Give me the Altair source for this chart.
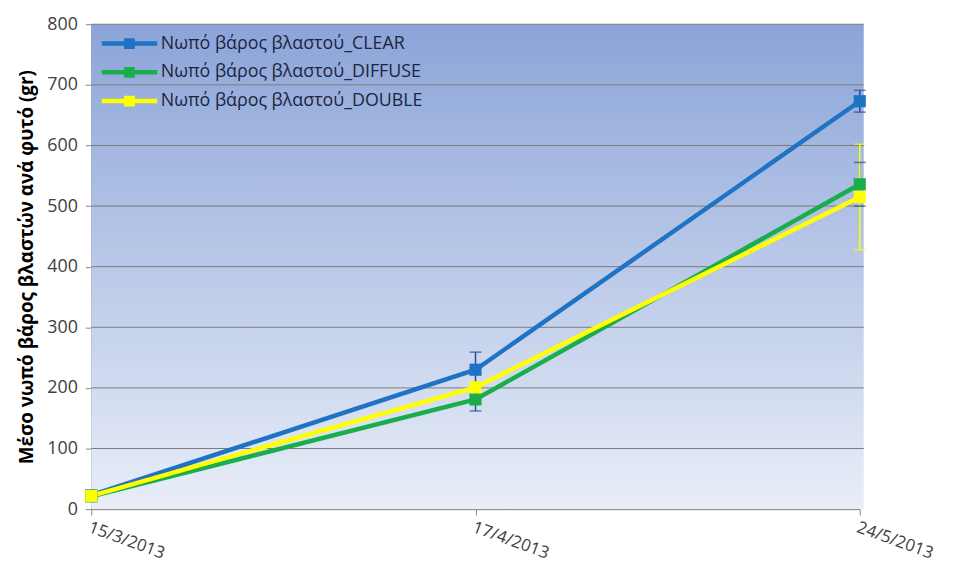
import altair as alt
import pandas as pd

dates = ["15/3/2013", "17/4/2013", "24/5/2013"]
series = ["Νωπό βάρος βλαστού_CLEAR", "Νωπό βάρος βλαστού_DIFFUSE", "Νωπό βάρος βλαστού_DOUBLE"]
clear = [23, 230, 673]
diffuse = [21, 181, 536]
double = [22, 201, 515]
clear_err = [2, 29, 18]
diffuse_err = [2, 19, 36]
double_err = [2, 3, 87]
y_ticks = [0, 100, 200, 300, 400, 500, 600, 700, 800]
colors = ["#1f73c4", "#1aad4c", "#ffff00"]
err_colors = ["#1f4f9a", "#1f4f9a", "#ffff00"]

rows = []
for s, vals, errs, ec in zip(series, [clear, diffuse, double], [clear_err, diffuse_err, double_err], err_colors):
    for d, v, e in zip(dates, vals, errs):
        rows.append({"date": d, "series": s, "value": v, "lo": v - e, "hi": v + e, "ecol": ec})
df = pd.DataFrame(rows)
grid_df = pd.DataFrame({"value": y_ticks[1:]})

W, H = 775, 489
FONT = "Open Sans"

x = alt.X("date:O", sort=dates, scale=alt.Scale(type="point", padding=0),
          axis=alt.Axis(title=None, labelAngle=20, labelAlign="left", labelBaseline="top",
                        labelPadding=4, labelFontSize=17, labelColor="#404040",
                        domainColor="#888888", tickColor="#888888", tickSize=6, grid=False))
yscale = alt.Scale(domain=[0, 800], nice=False)
y = alt.Y("value:Q", scale=yscale,
          axis=alt.Axis(title="Μέσο νωπό βάρος βλαστών ανά φυτό (gr)", values=y_ticks,
                        titleFontSize=19, titleFontWeight="bold", titleColor="#000000", titlePadding=10,
                        labelFontSize=18, labelColor="#404040", labelPadding=8,
                        domainColor="#888888", tickColor="#888888", tickSize=6, grid=False))
color = alt.Color("series:N", sort=series, scale=alt.Scale(domain=series, range=colors),
                  legend=alt.Legend(title=None, orient="none", legendX=25, legendY=6,
                                    symbolType="M-2.5,0L2.5,0M-0.28,-0.28L0.28,-0.28L0.28,0.28L-0.28,0.28Z",
                                    symbolStrokeWidth=4.5, symbolSize=500, labelFontSize=18, labelLimit=0,
                                    labelColor="#1c2541", rowPadding=3, labelOffset=18))

bg_data = pd.DataFrame({"a": [0]})
bg = alt.Chart(bg_data).mark_rect(
    color=alt.Gradient(gradient="linear", x1=0, y1=0, x2=0, y2=1,
                       stops=[alt.GradientStop(color="#8ba4d8", offset=0),
                              alt.GradientStop(color="#e9eef8", offset=1)])
).encode(x=alt.value(0), x2=alt.value(W + 4), y=alt.value(0), y2=alt.value(H))

gridlines = alt.Chart(grid_df).mark_rule(color="#7a7a7a", strokeWidth=1).encode(
    y=y, x=alt.value(0), x2=alt.value(W + 4))

base = alt.Chart(df)
axes = base.mark_rule(opacity=0).encode(x=x, y=y)
ecol = alt.Color("ecol:N", scale=None, legend=None)
err = base.mark_rule(strokeWidth=1.5).encode(x=x, y="lo:Q", y2="hi:Q", color=ecol)
cap_lo = base.mark_tick(size=12, thickness=1.5, orient="horizontal").encode(x=x, y="lo:Q", color=ecol)
cap_hi = base.mark_tick(size=12, thickness=1.5, orient="horizontal").encode(x=x, y="hi:Q", color=ecol)
lines = base.mark_line(strokeWidth=4.5).encode(x=x, y=y, color=color, order=alt.Order("series:N"))
pts = base.mark_square(size=150, opacity=1).encode(
    x=x, y=y, color=alt.Color("series:N", sort=series, scale=alt.Scale(domain=series, range=colors), legend=None))

chart = alt.layer(bg, axes, gridlines, err, cap_lo, cap_hi, lines, pts).resolve_scale(color="independent").properties(
    width=W, height=H,
    autosize=alt.AutoSizeParams(type="none"),
    padding={"left": 84, "top": 14, "right": 90, "bottom": 58},
).configure_view(stroke=None).configure(font=FONT, background="#ffffff")

chart.save("out.html", embed_options={"renderer": "svg", "actions": False})
